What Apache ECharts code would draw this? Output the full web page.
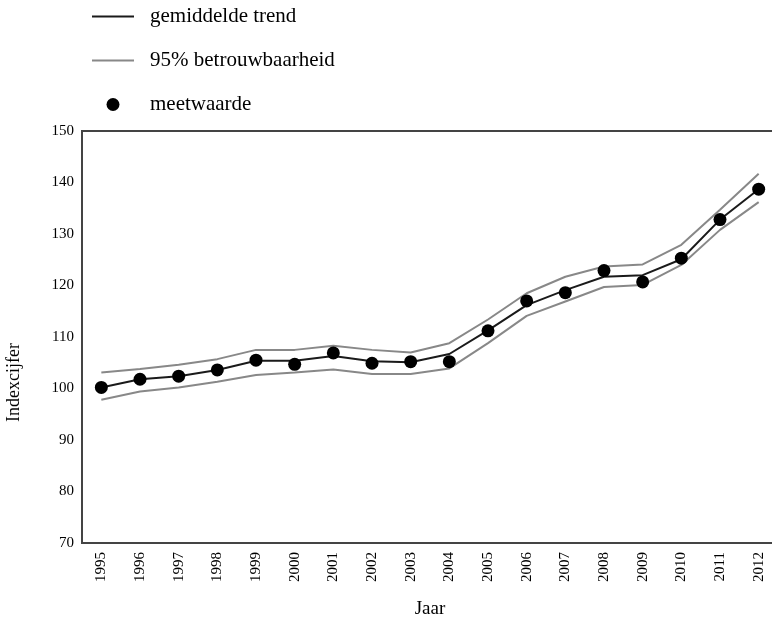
<!DOCTYPE html>
<html>
<head>
<meta charset="utf-8">
<script src="https://cdn.jsdelivr.net/npm/echarts@6/dist/echarts.min.js"></script>
<style>
  html, body { margin: 0; padding: 0; background: #fff; }
  #chart { width: 772px; height: 618px; }
</style>
</head>
<body>
<div id="chart"></div>
<script>
// Jaren en indexcijfers (1995 = ca. 100)
const years = ['1995','1996','1997','1998','1999','2000','2001','2002','2003',
               '2004','2005','2006','2007','2008','2009','2010','2011','2012'];
const measured = [100.2, 101.8, 102.4, 103.6, 105.5, 104.7, 106.9, 104.9, 105.2,
                  105.2, 111.2, 117.0, 118.6, 122.9, 120.7, 125.3, 132.8, 138.7];
const trend    = [100.2, 101.8, 102.4, 103.6, 105.4, 105.4, 106.3, 105.3, 105.1,
                  106.7, 111.3, 116.2, 119.1, 121.7, 122.0, 125.1, 132.8, 138.7];
const upper    = [103.1, 103.8, 104.6, 105.7, 107.5, 107.5, 108.3, 107.5, 107.0,
                  108.8, 113.4, 118.5, 121.7, 123.7, 124.1, 127.9, 134.7, 141.7];
const lower    = [ 97.8,  99.4, 100.2, 101.3, 102.6, 103.1, 103.7, 102.8, 102.8,
                  103.9, 108.8, 114.1, 116.9, 119.7, 120.1, 124.0, 130.8, 136.2];
const yTicks = { min: 70, max: 150, interval: 10 };

const FONT = '"Liberation Serif", "DejaVu Serif", serif';
// thin horizontal bar used as legend icon for the two line series
const LINE_ICON = 'path://M0,0 L42,0 L42,2 L0,2 Z';

const chart = echarts.init(document.getElementById('chart'), null, { renderer: 'canvas' });

chart.setOption({
  animation: false,
  backgroundColor: '#fff',
  textStyle: { fontFamily: FONT },
  grid: {
    left: 82, top: 131, right: -6, bottom: 75,
    outerBoundsMode: 'none',
    containLabel: false,
    show: true, borderColor: '#444', borderWidth: 2
  },
  legend: {
    orient: 'vertical',
    left: 87, top: 1,
    itemWidth: 42, itemHeight: 13, itemGap: 23,
    textStyle: { fontFamily: FONT, fontSize: 21, color: '#000', padding: [0, 0, 0, 11] },
    data: [
      { name: 'gemiddelde trend', icon: LINE_ICON, itemStyle: { color: '#1a1a1a' } },
      { name: '95% betrouwbaarheid', icon: LINE_ICON, itemStyle: { color: '#888' } },
      { name: 'meetwaarde', icon: 'circle', itemStyle: { color: '#000', opacity: 1 } }
    ]
  },
  xAxis: {
    type: 'category',
    data: years,
    boundaryGap: true,
    axisLine: { show: true, lineStyle: { color: '#444', width: 2 } },
    axisTick: { show: false },
    axisLabel: { rotate: 90, fontSize: 15, color: '#000', margin: 9, fontFamily: FONT },
    splitLine: { show: false },
    name: 'Jaar',
    nameLocation: 'middle',
    nameGap: 57,
    nameTextStyle: { fontSize: 19, color: '#000', fontFamily: FONT }
  },
  yAxis: {
    type: 'value',
    min: yTicks.min, max: yTicks.max, interval: yTicks.interval,
    axisLine: { show: true, lineStyle: { color: '#444', width: 2 } },
    axisTick: { show: false },
    axisLabel: { fontSize: 15, color: '#000', margin: 8, fontFamily: FONT },
    splitLine: { show: false }
  },
  graphic: [{
    type: 'text',
    left: 5, top: 343,
    rotation: Math.PI / 2,
    style: { text: 'Indexcijfer', fontSize: 18, fontFamily: FONT, fill: '#000' }
  }],
  series: [
    {
      name: '95% betrouwbaarheid', type: 'line', data: upper,
      symbol: 'none', lineStyle: { color: '#888', width: 2 }, itemStyle: { color: '#888' }, z: 1
    },
    {
      name: '95% betrouwbaarheid', type: 'line', data: lower,
      symbol: 'none', lineStyle: { color: '#888', width: 2 }, itemStyle: { color: '#888' }, z: 1
    },
    {
      name: 'gemiddelde trend', type: 'line', data: trend,
      symbol: 'none', lineStyle: { color: '#1a1a1a', width: 2 }, itemStyle: { color: '#1a1a1a' }, z: 2
    },
    {
      name: 'meetwaarde', type: 'scatter', data: measured,
      symbol: 'circle', symbolSize: 13, itemStyle: { color: '#000', opacity: 1 }, z: 3
    }
  ]
});
</script>
</body>
</html>
